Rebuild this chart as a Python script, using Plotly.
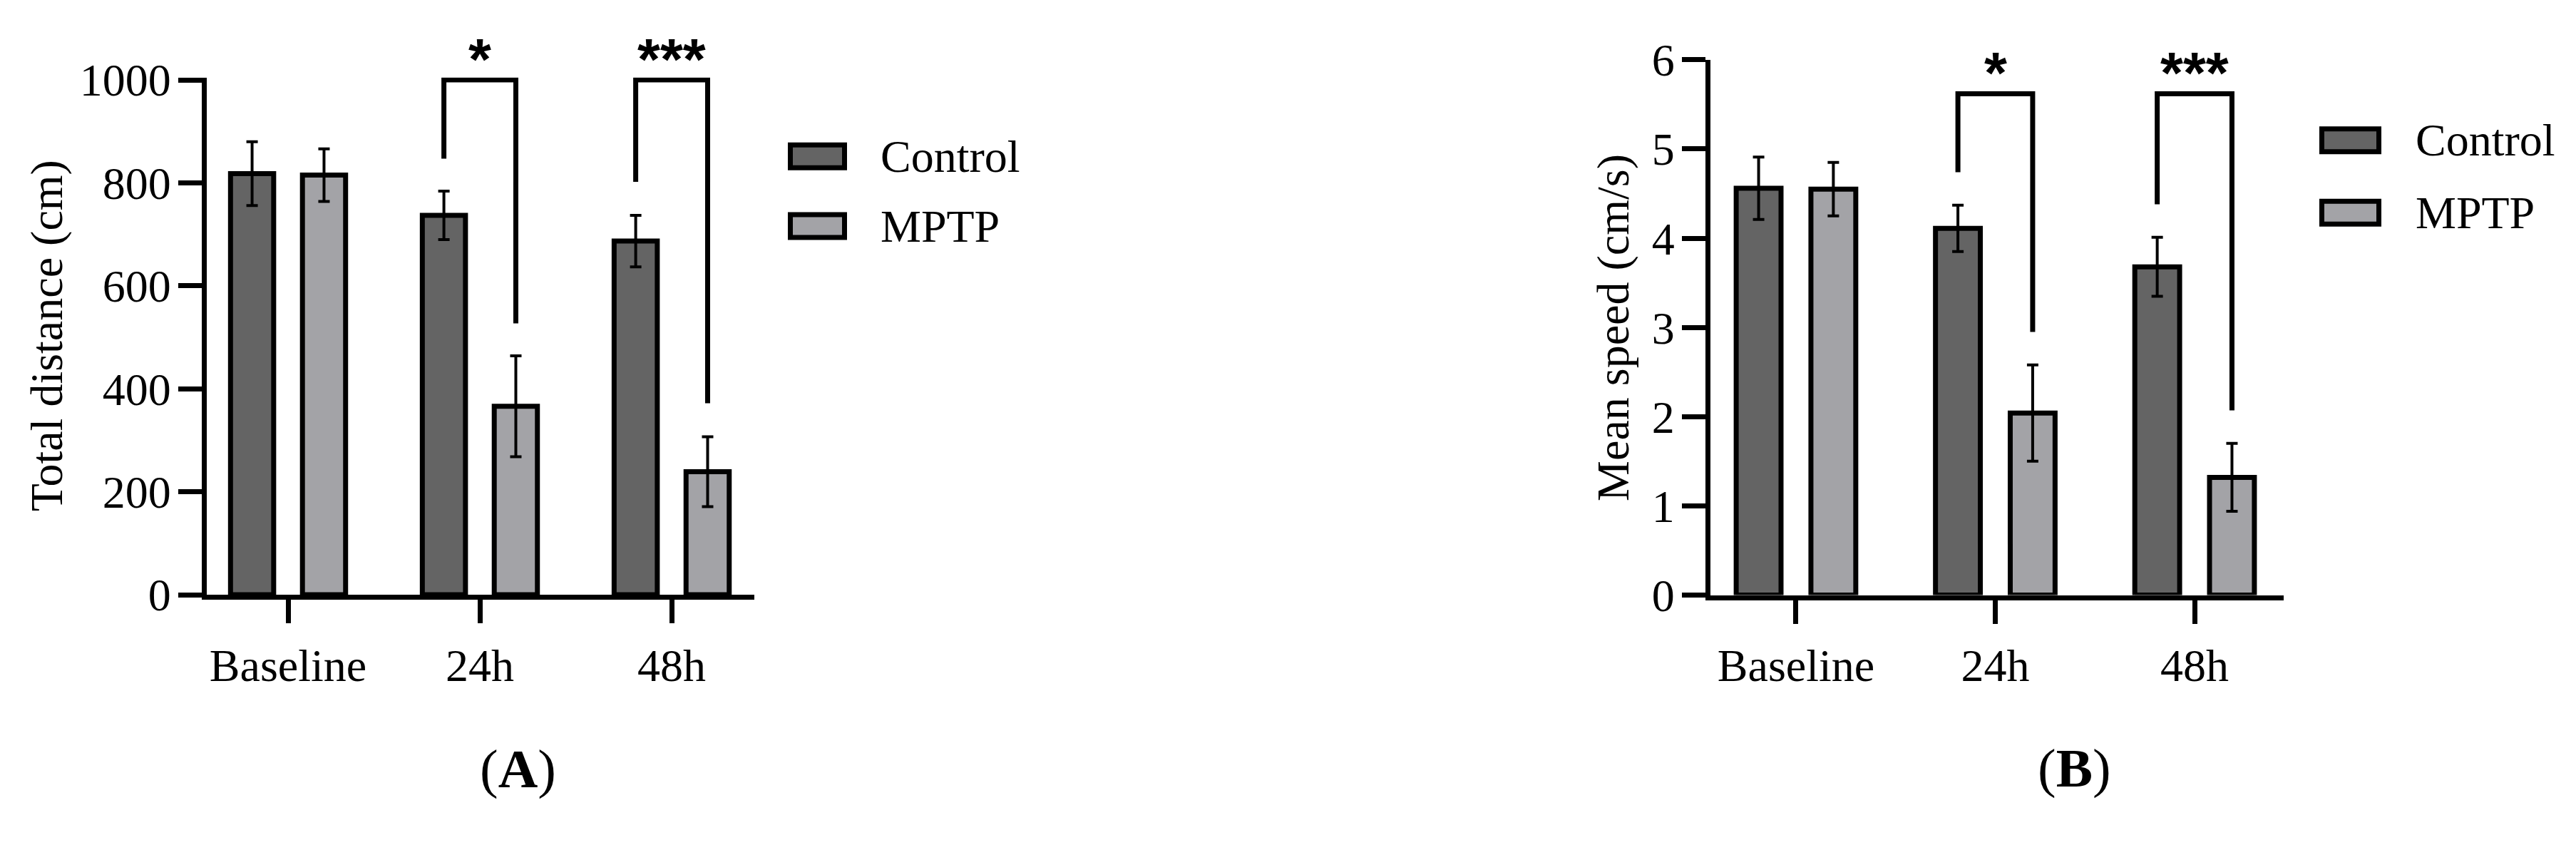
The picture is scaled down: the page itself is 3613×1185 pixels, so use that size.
import plotly.graph_objects as go

W, H = 3613, 1185

time_points = ["Baseline", "24h", "48h"]
groups = ["Control", "MPTP"]

# (A) total distance, mean and error
dist_control = [818, 737, 687]
dist_control_err = [62, 47, 50]
dist_mptp = [815, 366, 239]
dist_mptp_err = [51, 98, 68]
dist_ticks = [0, 200, 400, 600, 800, 1000]
dist_sig_at = [1, 2]
dist_sig_left = [847, 802]
dist_sig_top = [1000, 1000]
dist_sig_right = [527, 372]
dist_sig_text = ["*", "***"]

# (B) mean speed, mean and error
speed_control = [4.56, 4.11, 3.68]
speed_control_err = [0.35, 0.26, 0.33]
speed_mptp = [4.55, 2.04, 1.32]
speed_mptp_err = [0.30, 0.54, 0.38]
speed_ticks = [0, 1, 2, 3, 4, 5, 6]
speed_sig_at = [1, 2]
speed_sig_left = [4.74, 4.38]
speed_sig_top = [5.62, 5.62]
speed_sig_right = [2.95, 2.07]
speed_sig_text = ["*", "***"]

COLORS = ["#646464", "#a3a3a7"]
SERIF = "Liberation Serif"
BARGAP = 0.25
OFFSET = (1 - BARGAP) / 4  # centre of each bar from the group centre


def px_x(v):
    return v / W


def px_y(v):
    return 1 - v / H


fig = go.Figure()


def add_panel(fig, xa, ya, means, errs, sig_at, sig_left, sig_top, sig_right, sig_text):
    for name, m, e, c in zip(groups, means, errs, COLORS):
        fig.add_trace(go.Bar(
            x=list(range(len(time_points))), y=m, name=name,
            xaxis=xa, yaxis=ya,
            marker=dict(color=c, line=dict(color="black", width=7)),
            error_y=dict(type="data", array=e, color="black", thickness=4, width=8),
            showlegend=False, hoverinfo="skip",
        ))
    for i, at in enumerate(sig_at):
        fig.add_trace(go.Scatter(
            x=[at - OFFSET, at - OFFSET, at + OFFSET, at + OFFSET],
            y=[sig_left[i], sig_top[i], sig_top[i], sig_right[i]],
            mode="lines", line=dict(color="black", width=7),
            xaxis=xa, yaxis=ya, showlegend=False, hoverinfo="skip",
        ))
        fig.add_annotation(
            x=at, y=sig_top[i], xref=xa, yref=ya, text=sig_text[i],
            showarrow=False, yanchor="middle", yshift=30,
            font=dict(family="Liberation Sans", size=82, color="black", weight="bold"),
        )


add_panel(fig, "x", "y", [dist_control, dist_mptp], [dist_control_err, dist_mptp_err],
          dist_sig_at, dist_sig_left, dist_sig_top, dist_sig_right, dist_sig_text)
add_panel(fig, "x2", "y2", [speed_control, speed_mptp], [speed_control_err, speed_mptp_err],
          speed_sig_at, speed_sig_left, speed_sig_top, speed_sig_right, speed_sig_text)

axis_style = dict(
    showline=True, linewidth=7, linecolor="black",
    ticks="outside", ticklen=33, tickwidth=7, tickcolor="black",
    showgrid=False, zeroline=False, fixedrange=True,
    tickfont=dict(family=SERIF, size=64, color="black"),
)

fig.update_layout(
    width=W, height=H,
    margin=dict(l=0, r=0, t=0, b=0),
    paper_bgcolor="white", plot_bgcolor="white",
    barmode="group", bargap=BARGAP, bargroupgap=0.4,
    showlegend=False,
    xaxis=dict(domain=[px_x(289.5), px_x(1058)], range=[-0.4257, 2.431],
               tickvals=[0, 1, 2], ticktext=time_points, anchor="y",
               ticklabelstandoff=4, **axis_style),
    yaxis=dict(domain=[px_y(850), px_y(78.5)], range=[0, 1004.5],
               tickvals=dist_ticks, anchor="x", ticklabelstandoff=-3, **axis_style),
    xaxis2=dict(domain=[px_x(2398.5), px_x(3203)], range=[-0.431, 2.447],
                tickvals=[0, 1, 2], ticktext=time_points, anchor="y2",
                ticklabelstandoff=4, **axis_style),
    yaxis2=dict(domain=[px_y(850.5), px_y(52)], range=[0, 6],
                tickvals=speed_ticks, anchor="x2", ticklabelstandoff=-3, **axis_style),
)

# axis titles and panel letters
text_font = dict(family=SERIF, size=64, color="black")
fig.add_annotation(x=px_x(65), y=px_y(464), xref="paper", yref="paper",
                   text="Total distance (cm)", textangle=-90, showarrow=False,
                   xanchor="center", yanchor="middle", font=text_font)
fig.add_annotation(x=px_x(2263), y=px_y(452), xref="paper", yref="paper",
                   text="Mean speed (cm/s)", textangle=-90, showarrow=False,
                   xanchor="center", yanchor="middle", font=text_font)
fig.add_annotation(x=px_x(726), y=px_y(1110), xref="paper", yref="paper",
                   text="(<b>A</b>)", showarrow=False, xanchor="center", yanchor="middle",
                   font=dict(family=SERIF, size=77, color="black"))
fig.add_annotation(x=px_x(2909), y=px_y(1108), xref="paper", yref="paper",
                   text="(<b>B</b>)", showarrow=False, xanchor="center", yanchor="middle",
                   font=dict(family=SERIF, size=77, color="black"))

# legends drawn as boxes next to each panel
legend_spots = [
    (1108.5, 1184.5, [196, 300], 1233),
    (3256.5, 3336.5, [172, 280], 3386),
]
for x0, x1, centers, tx in legend_spots:
    for name, c, cy in zip(groups, COLORS, centers):
        fig.add_shape(type="rect", xref="paper", yref="paper",
                      x0=px_x(x0), x1=px_x(x1), y0=px_y(cy + 17), y1=px_y(cy - 17),
                      fillcolor=c, line=dict(color="black", width=7))
        fig.add_annotation(x=px_x(tx), y=px_y(cy), xref="paper", yref="paper",
                           text=name, showarrow=False, xanchor="left", yanchor="middle",
                           font=text_font)

fig.write_html("out.html", config={"displayModeBar": False},
               post_script="document.body.style.margin='0';")
